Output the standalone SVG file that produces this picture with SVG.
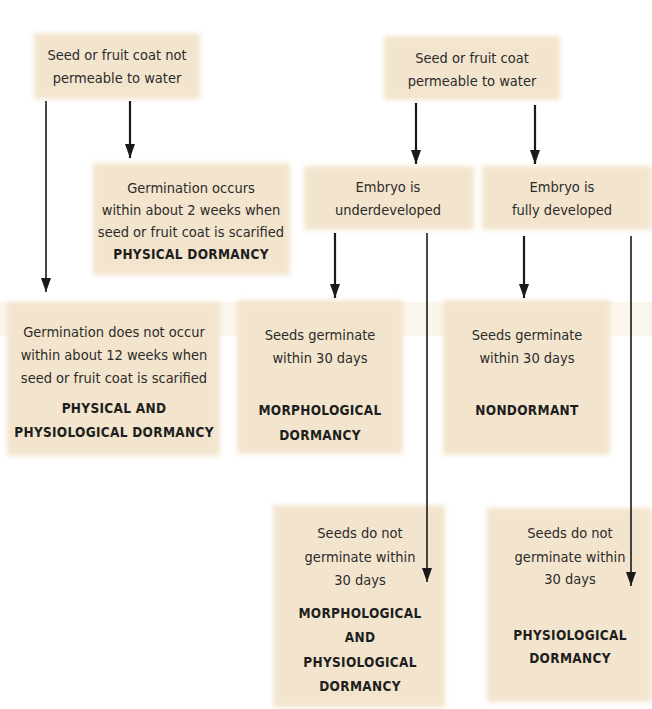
<svg xmlns="http://www.w3.org/2000/svg" width="652" height="709" viewBox="0 0 652 709">
<defs>
<filter id="soft" x="-10%" y="-10%" width="120%" height="120%"><feGaussianBlur stdDeviation="2.5"/></filter>
<marker id="ah" viewBox="0 0 14 10" refX="14" refY="5" markerWidth="14" markerHeight="10" markerUnits="userSpaceOnUse" orient="auto">
<path d="M0,0 L14,5 L0,10 Z" fill="#1a1a1a"/>
</marker>
</defs>
<style>
.box{fill:#f3e5cd;filter:url(#soft)}
.t{font-family:"DejaVu Sans Condensed","Liberation Sans",sans-serif;font-size:14.5px;fill:#2b2b2b;text-anchor:middle}
.b{font-family:"DejaVu Sans Condensed","Liberation Sans",sans-serif;font-size:13.5px;font-weight:bold;fill:#1e1e1e;text-anchor:middle;letter-spacing:0.3px}
.c{stroke:#1a1a1a;stroke-width:2.2;fill:none}
.c2{stroke:#1a1a1a;stroke-width:1.6;fill:none}
</style>
<rect width="652" height="709" fill="#ffffff"/>
<rect x="0" y="302" width="652" height="34" fill="#fbf6ec"/>
<g id="n1"><rect class="box" x="34" y="33" width="166" height="66"/>
<text class="t" x="117" y="60">Seed or fruit coat not</text>
<text class="t" x="117" y="83">permeable to water</text></g>
<g id="n2"><rect class="box" x="384" y="36" width="176" height="64"/>
<text class="t" x="472" y="63">Seed or fruit coat</text>
<text class="t" x="472" y="86">permeable to water</text></g>
<g id="n3"><rect class="box" x="93" y="163" width="197" height="112"/>
<text class="t" x="191" y="193">Germination occurs</text>
<text class="t" x="191" y="215">within about 2 weeks when</text>
<text class="t" x="191" y="237">seed or fruit coat is scarified</text>
<text class="b" x="191" y="259">PHYSICAL DORMANCY</text></g>
<g id="n4"><rect class="box" x="304" y="166" width="170" height="64"/>
<text class="t" x="388" y="192">Embryo is</text>
<text class="t" x="388" y="215">underdeveloped</text></g>
<g id="n5"><rect class="box" x="482" y="166" width="170" height="64"/>
<text class="t" x="562" y="192">Embryo is</text>
<text class="t" x="562" y="215">fully developed</text></g>
<g id="n6"><rect class="box" x="7" y="302" width="213" height="154"/>
<text class="t" x="114" y="337">Germination does not occur</text>
<text class="t" x="114" y="360">within about 12 weeks when</text>
<text class="t" x="114" y="383">seed or fruit coat is scarified</text>
<text class="b" x="114" y="413">PHYSICAL AND</text>
<text class="b" x="114" y="437">PHYSIOLOGICAL DORMANCY</text></g>
<g id="n7"><rect class="box" x="237" y="300" width="166" height="154"/>
<text class="t" x="320" y="340">Seeds germinate</text>
<text class="t" x="320" y="363">within 30 days</text>
<text class="b" x="320" y="415">MORPHOLOGICAL</text>
<text class="b" x="320" y="440">DORMANCY</text></g>
<g id="n8"><rect class="box" x="443" y="300" width="167" height="155"/>
<text class="t" x="527" y="340">Seeds germinate</text>
<text class="t" x="527" y="363">within 30 days</text>
<text class="b" x="527" y="415">NONDORMANT</text></g>
<g id="n9"><rect class="box" x="273" y="505" width="172" height="202"/>
<text class="t" x="360" y="538">Seeds do not</text>
<text class="t" x="360" y="562">germinate within</text>
<text class="t" x="360" y="585">30 days</text>
<text class="b" x="360" y="618">MORPHOLOGICAL</text>
<text class="b" x="360" y="642">AND</text>
<text class="b" x="360" y="667">PHYSIOLOGICAL</text>
<text class="b" x="360" y="691">DORMANCY</text></g>
<g id="n10"><rect class="box" x="487" y="508" width="165" height="194"/>
<text class="t" x="570" y="538">Seeds do not</text>
<text class="t" x="570" y="562">germinate within</text>
<text class="t" x="570" y="584">30 days</text>
<text class="b" x="570" y="640">PHYSIOLOGICAL</text>
<text class="b" x="570" y="663">DORMANCY</text></g>
<g id="connectors">
<line class="c2" x1="46" y1="101" x2="46" y2="292" marker-end="url(#ah)"/>
<line class="c" x1="130" y1="101" x2="130" y2="158" marker-end="url(#ah)"/>
<line class="c" x1="416" y1="103" x2="416" y2="164" marker-end="url(#ah)"/>
<line class="c" x1="535" y1="105" x2="535" y2="164" marker-end="url(#ah)"/>
<line class="c" x1="335" y1="233" x2="335" y2="298" marker-end="url(#ah)"/>
<line class="c2" x1="427" y1="233" x2="427" y2="582" marker-end="url(#ah)"/>
<line class="c" x1="524" y1="236" x2="524" y2="298" marker-end="url(#ah)"/>
<line class="c2" x1="631" y1="236" x2="631" y2="586" marker-end="url(#ah)"/>
</g>
</svg>
